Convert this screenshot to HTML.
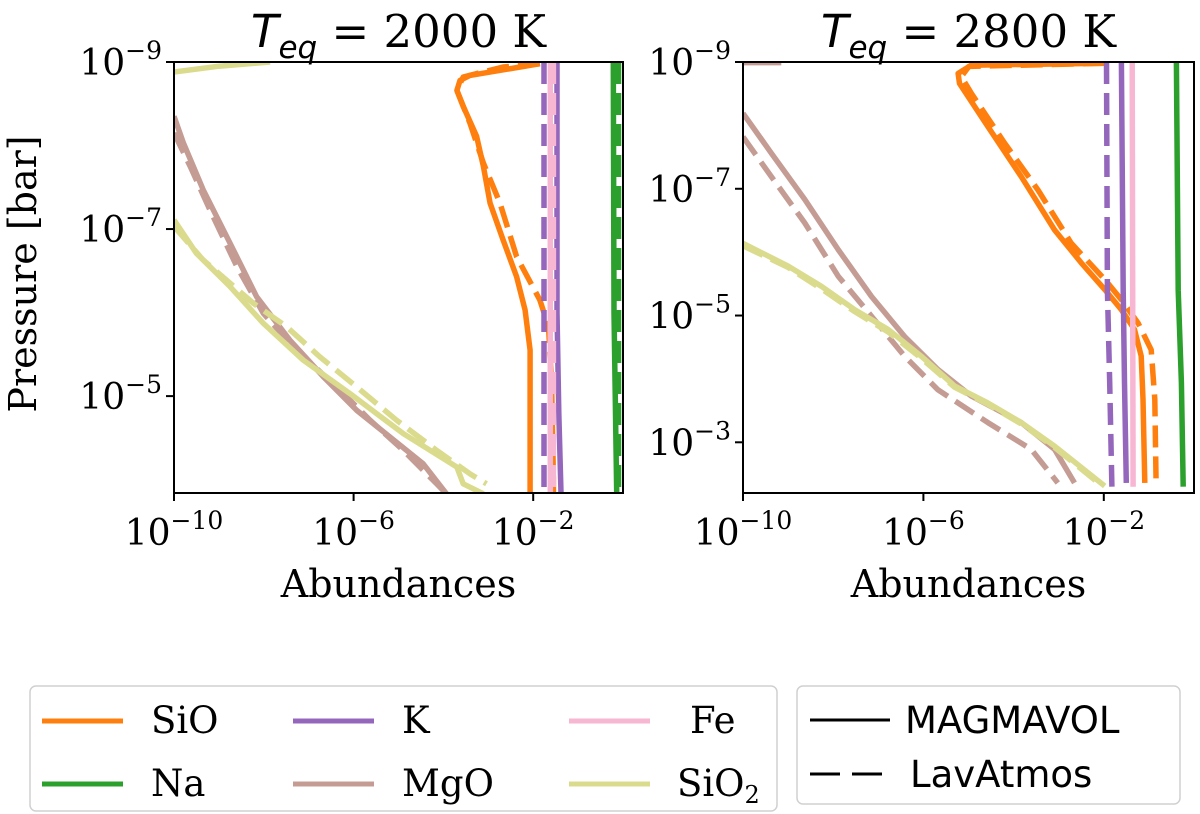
<!DOCTYPE html>
<html><head><meta charset="utf-8"><style>
body{margin:0;background:#fff;}
svg{display:block;}
.serif{font-family:"DejaVu Serif","Liberation Serif",serif;}
.sans{font-family:"DejaVu Sans","Liberation Sans",sans-serif;}
</style></head><body>
<svg id="fig" width="1200" height="814" viewBox="0 0 1200 814" xmlns="http://www.w3.org/2000/svg">
<g id="panels"></g>
<g>
<rect x="30" y="686" width="747" height="125" rx="6" fill="#fff" stroke="#d0d0d0" stroke-width="1.5"/>
<g class="serif" font-size="37" fill="#000">
<line x1="42" y1="721" x2="123" y2="721" stroke="#ff7f0e" stroke-width="5"/><text x="151" y="733">SiO</text>
<line x1="42" y1="784" x2="123" y2="784" stroke="#2ca02c" stroke-width="5"/><text x="151" y="796">Na</text>
<line x1="293" y1="721" x2="374" y2="721" stroke="#9467bd" stroke-width="5"/><text x="402" y="733">K</text>
<line x1="293" y1="784" x2="374" y2="784" stroke="#c49c94" stroke-width="5"/><text x="402" y="796">MgO</text>
<line x1="569" y1="721" x2="650" y2="721" stroke="#f7b6d2" stroke-width="5"/><text x="690" y="733">Fe</text>
<line x1="569" y1="784" x2="650" y2="784" stroke="#dbdb8d" stroke-width="5"/><text x="677" y="796">SiO<tspan font-size="24" dy="7">2</tspan></text>
</g></g>
<g>
<rect x="797" y="686" width="383" height="118" rx="6" fill="#fff" stroke="#d0d0d0" stroke-width="1.5"/>
<g class="sans" font-size="37" fill="#000">
<line x1="810" y1="720" x2="890" y2="720" stroke="#000" stroke-width="3"/><text x="905" y="733">MAGMAVOL</text>
<line x1="810" y1="774" x2="890" y2="774" stroke="#000" stroke-width="3" stroke-dasharray="30,12"/><text x="910" y="787">LavAtmos</text>
</g></g>
</svg>
<script>
// data in log10 units: [log abundance, log pressure]
const leftSiO = [[-1.85,-8.98],[-2.29,-8.94],[-3.41,-8.84],[-3.63,-8.78],[-3.70,-8.66],[-3.56,-8.47],[-3.26,-8.11],[-3.11,-7.75],[-2.96,-7.31],[-2.67,-6.87],[-2.37,-6.43],[-2.18,-6.03],[-2.07,-5.55],[-2.07,-4.75],[-2.07,-3.83]];
const leftSiOd = [[-1.85,-8.98],[-2.67,-8.94],[-3.56,-8.82],[-3.70,-8.66],[-3.41,-8.27],[-3.11,-7.79],[-2.74,-7.31],[-2.37,-6.67],[-1.85,-6.15],[-1.66,-5.83],[-1.59,-5.15],[-1.55,-4.03],[-1.55,-3.84]];
const leftK = [[-1.47,-9],[-1.47,-6.0],[-1.43,-4.8],[-1.38,-3.84]];
const leftKd = [[-1.76,-9],[-1.76,-3.84]];
const leftFe = [[-1.62,-9],[-1.62,-3.84]];
const leftFed = [[-1.55,-9],[-1.55,-3.84]];
const leftNa = [[-0.215,-9],[-0.20,-6.0],[-0.14,-3.84]];
const leftNad = [[-0.10,-9],[-0.10,-3.84]];
const leftMgO = [[-10,-8.35],[-9.79,-8.03],[-9.35,-7.47],[-8.75,-6.83],[-8.16,-6.19],[-7.42,-5.67],[-6.67,-5.23],[-5.93,-4.83],[-5.19,-4.51],[-4.45,-4.19],[-3.93,-3.83]];
const leftMgOd = [[-10,-8.15],[-9.64,-7.75],[-9.20,-7.23],[-8.60,-6.55],[-8.01,-5.99],[-7.27,-5.55],[-6.38,-5.11],[-5.63,-4.71],[-4.89,-4.35],[-4.15,-3.95],[-3.95,-3.84]];
const leftSiO2 = [[-10,-7.11],[-9.50,-6.71],[-8.75,-6.31],[-8.01,-5.87],[-7.12,-5.43],[-6.08,-5.03],[-4.89,-4.55],[-3.70,-4.15],[-3.56,-3.95],[-3.11,-3.83]];
const leftSiO2top = [[-10,-8.88],[-9,-8.95],[-7.86,-9.0]];
const leftSiO2d = [[-10,-7.03],[-9.35,-6.63],[-8.23,-6.11],[-7.49,-5.83],[-6.75,-5.47],[-5.93,-5.11],[-5.04,-4.71],[-4.15,-4.35],[-3.41,-4.07],[-3.04,-3.95]];
const rightSiO = [[-1.98,-8.98],[-4.94,-8.95],[-5.23,-8.82],[-5.20,-8.66],[-4.57,-7.98],[-3.83,-7.19],[-3.09,-6.35],[-2.50,-5.83],[-1.98,-5.41],[-1.61,-5.09],[-1.32,-4.78],[-1.17,-4.36],[-1.13,-3.68],[-1.09,-2.36]];
const rightSiOd = [[-1.98,-8.98],[-4.99,-8.93],[-5.16,-8.77],[-4.94,-8.51],[-4.20,-7.72],[-3.46,-6.98],[-2.72,-6.14],[-1.98,-5.57],[-1.61,-5.25],[-1.24,-4.88],[-0.95,-4.46],[-0.87,-3.68],[-0.84,-2.36]];
const rightK = [[-1.61,-9],[-1.57,-5.4],[-1.54,-3.94],[-1.50,-2.36]];
const rightKd = [[-1.94,-9],[-1.92,-5.4],[-1.87,-3.94],[-1.82,-2.3]];
const rightFe = [[-1.37,-9],[-1.35,-2.3]];
const rightNa = [[-0.39,-9],[-0.35,-5.4],[-0.28,-3.94],[-0.24,-2.3]];
const rightMgO = [[-10,-8.19],[-9.37,-7.56],[-8.63,-6.83],[-7.89,-6.04],[-7.15,-5.30],[-6.42,-4.67],[-5.68,-4.15],[-4.94,-3.73],[-3.83,-3.31],[-3.09,-2.89],[-2.65,-2.36]];
const rightMgOtop = [[-10,-8.99],[-9.15,-8.99]];
const rightMgOd = [[-10,-7.82],[-9.37,-7.19],[-8.63,-6.46],[-7.89,-5.62],[-7.15,-4.99],[-6.42,-4.36],[-5.68,-3.83],[-4.57,-3.31],[-3.61,-2.89],[-3.02,-2.36]];
const rightSiO2 = [[-10,-6.14],[-9.0,-5.78],[-8.26,-5.46],[-7.52,-5.09],[-6.78,-4.78],[-6.05,-4.36],[-5.31,-3.89],[-4.57,-3.62],[-3.83,-3.31],[-3.09,-2.94],[-1.98,-2.31]];
const rightSiO2d = [[-10,-6.10],[-9.0,-5.76],[-8.26,-5.42],[-7.52,-5.06],[-6.78,-4.74],[-6.05,-4.33],[-5.31,-3.87],[-4.57,-3.60],[-3.83,-3.29],[-3.09,-2.92],[-2.05,-2.32]];
const xTicks = [-10,-6,-2];
const xTickLabels = ["10","10","10"];
const leftYTicks = [-9,-7,-5];
const rightYTicks = [-9,-7,-5,-3];
const titles = ["2000 K","2800 K"];

const C = {sio:"#ff7f0e",na:"#2ca02c",k:"#9467bd",mgo:"#c49c94",fe:"#f7b6d2",sio2:"#dbdb8d"};
const NS="http://www.w3.org/2000/svg";
const root=document.getElementById('panels');
function mk(tag,attrs,parent){const e=document.createElementNS(NS,tag);for(const k in attrs)e.setAttribute(k,attrs[k]);parent.appendChild(e);return e;}

const panels=[
 {x0:174,x1:623,y0:62,y1:493,ymin:-9,ymax:-3.84,yt:leftYTicks,title:titles[0],
  series:[
   [leftSiO2top,C.sio2,0,'sio2-top-magmavol'],[leftMgOd,C.mgo,1,'mgo-lavatmos'],[leftMgO,C.mgo,0,'mgo-magmavol'],
   [leftSiO2,C.sio2,0,'sio2-magmavol'],[leftSiO2d,C.sio2,1,'sio2-lavatmos'],
   [leftSiO,C.sio,0,'sio-magmavol'],[leftSiOd,C.sio,1,'sio-lavatmos'],
   [leftFe,C.fe,0,'fe-magmavol'],[leftK,C.k,0,'k-magmavol'],[leftKd,C.k,1,'k-lavatmos'],[leftFed,C.fe,1,'fe-lavatmos'],
   [leftNa,C.na,0,'na-magmavol'],[leftNad,C.na,1,'na-lavatmos']]},
 {x0:743,x1:1194,y0:62,y1:493,ymin:-9,ymax:-2.2,yt:rightYTicks,title:titles[1],
  series:[
   [rightMgOtop,C.mgo,0,'mgo-top-magmavol'],[rightMgOd,C.mgo,1,'mgo-lavatmos'],[rightMgO,C.mgo,0,'mgo-magmavol'],
   [rightSiO2d,C.sio2,1,'sio2-lavatmos'],[rightSiO2,C.sio2,0,'sio2-magmavol'],
   [rightSiO,C.sio,0,'sio-magmavol'],[rightSiOd,C.sio,1,'sio-lavatmos'],
   [rightKd,C.k,1,'k-lavatmos'],[rightK,C.k,0,'k-magmavol'],[rightFe,C.fe,0,'fe-magmavol'],[rightNa,C.na,0,'na-magmavol']]}
];
const XMIN=-10,XMAX=0;
panels.forEach((p,pi)=>{
  const g=mk('g',{},root);
  
  
  const sx=v=>p.x0+(v-XMIN)/(XMAX-XMIN)*(p.x1-p.x0);
  const sy=v=>p.y0+(v-p.ymin)/(p.ymax-p.ymin)*(p.y1-p.y0);
  const cid='clip'+pi;
  const cp=mk('clipPath',{id:cid},g);mk('rect',{x:p.x0,y:p.y0,width:p.x1-p.x0,height:p.y1-p.y0},cp);
  const sg=mk('g',{'clip-path':'url(#'+cid+')'},g);
  p.series.forEach(s=>{
    const d=s[0].map((pt,i)=>(i?'L':'M')+sx(pt[0]).toFixed(1)+','+sy(pt[1]).toFixed(1)).join('');
    const path=mk('path',{d:d,fill:'none',stroke:s[1],'stroke-width':5.5,'stroke-linejoin':'round'},sg);
    if(s[2])path.setAttribute('stroke-dasharray','22,9');
    
    
  });
  const fr=mk('rect',{x:p.x0,y:p.y0,width:p.x1-p.x0,height:p.y1-p.y0,fill:'none',stroke:'#000','stroke-width':2},g);
  
  
  xTicks.forEach((t,i)=>{
    const x=sx(t);
    mk('line',{x1:x,y1:p.y1,x2:x,y2:p.y1+8,stroke:'#000','stroke-width':2},g);
    const tx=mk('text',{x:x,y:p.y1+52,'text-anchor':'middle','font-size':36,class:'serif'},g);
    
    
    tx.textContent=xTickLabels[i];
    const sp=mk('tspan',{'font-size':25,dy:-16},tx);sp.textContent='\u2212'+(-t);
  });
  p.yt.forEach(t=>{
    const y=sy(t);
    mk('line',{x1:p.x0-8,y1:y,x2:p.x0,y2:y,stroke:'#000','stroke-width':2},g);
    const tx=mk('text',{x:p.x0-12,y:y+13,'text-anchor':'end','font-size':36,class:'serif'},g);
    
    
    tx.textContent='10';
    const sp=mk('tspan',{'font-size':25,dy:-16},tx);sp.textContent='\u2212'+(-t);
  });
  const xl=mk('text',{x:(p.x0+p.x1)/2,y:597,'text-anchor':'middle','font-size':38,class:'serif'},g);
  
  
  xl.textContent='Abundances';
  const tt=mk('text',{x:(p.x0+p.x1)/2,y:47,'text-anchor':'middle','font-size':45,class:'serif'},g);
  
  
  const t1=mk('tspan',{'font-style':'italic',class:'sans'},tt);t1.textContent='T';
  const t2=mk('tspan',{'font-style':'italic','font-size':31,dy:11,class:'sans'},tt);t2.textContent='eq';
  const t3=mk('tspan',{dy:-11},tt);t3.textContent=' = '+p.title;
});
const yl=mk('text',{x:0,y:0,transform:'translate(36,274) rotate(-90)','text-anchor':'middle','font-size':38,class:'serif'},root);


yl.textContent='Pressure [bar]';
</script>
</body></html>
